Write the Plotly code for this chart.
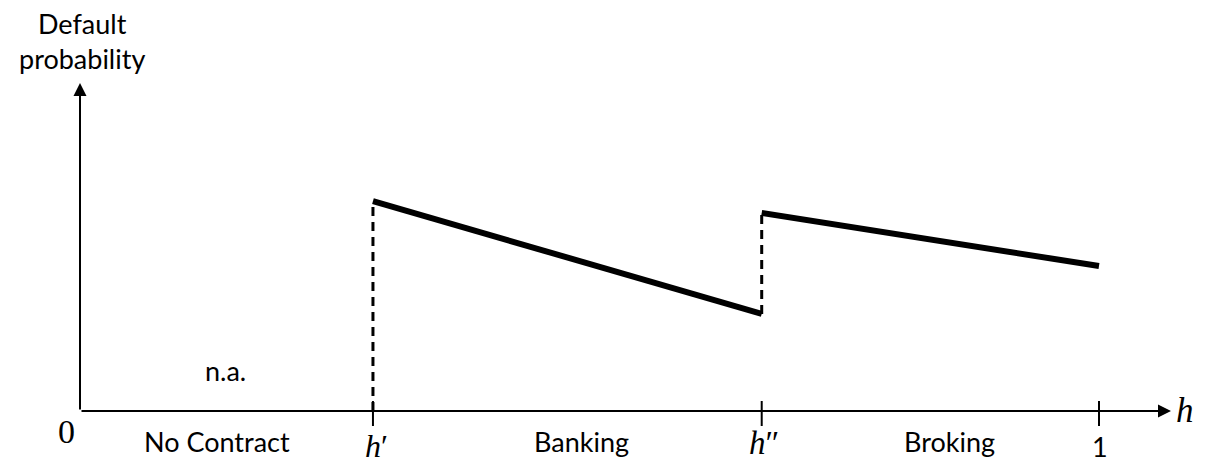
import plotly.graph_objects as go

# thresholds on the h axis
h_prime = 0.2875
h_dprime = 0.669
h_end = 1.0

# default probability segments
banking_h = [h_prime, h_dprime]
banking_pd = [0.640, 0.296]
broking_h = [h_dprime, h_end]
broking_pd = [0.604, 0.442]

regions = ["No Contract", "Banking", "Broking"]
region_x = [0.134, 0.492, 0.853]

PX_X = 1019.0
PX_Y = 328.0
xr = [-80 / PX_X, 1127 / PX_X]
yr = [-(467 - 411) / PX_Y, 411 / PX_Y]

fig = go.Figure()

# dashed vertical connectors
fig.add_trace(go.Scatter(x=[h_prime, h_prime], y=[0, banking_pd[0]], mode="lines",
                         line=dict(color="black", width=3, dash="9px,6px"), hoverinfo="skip"))
fig.add_trace(go.Scatter(x=[h_dprime, h_dprime], y=[banking_pd[1], broking_pd[0]], mode="lines",
                         line=dict(color="black", width=3, dash="9px,6px"), hoverinfo="skip"))
# main segments
fig.add_trace(go.Scatter(x=banking_h, y=banking_pd, mode="lines",
                         line=dict(color="black", width=6), hoverinfo="skip"))
fig.add_trace(go.Scatter(x=broking_h, y=broking_pd, mode="lines",
                         line=dict(color="black", width=6), hoverinfo="skip"))

# ticks
for tx in [h_prime, h_dprime, h_end]:
    fig.add_shape(type="line", x0=tx, x1=tx, y0=10 / PX_Y, y1=-15 / PX_Y,
                  xref="x", yref="y", line=dict(color="black", width=2))

ann = []
# axes with arrows
ann.append(dict(x=(1171 - 80) / PX_X, y=0, ax=0, ay=0, xref="x", yref="y", axref="x", ayref="y",
                showarrow=True, arrowhead=2, arrowsize=1.3, arrowwidth=2, arrowcolor="black", text=""))
ann.append(dict(x=0, y=(411 - 83) / PX_Y, ax=0, ay=0, xref="x", yref="y", axref="x", ayref="y",
                showarrow=True, arrowhead=2, arrowsize=1.3, arrowwidth=2, arrowcolor="black", text=""))

sans = "Lato"
serif = "Liberation Serif"
FS = 27
ann.append(dict(x=2 / PX_X, y=(411 - 41) / PX_Y, text="Default<br>probability", showarrow=False,
                xref="x", yref="y", font=dict(family=sans, size=FS, color="black"),
                xanchor="center", yanchor="middle"))
for name, rx in zip(regions, region_x):
    ann.append(dict(x=rx, y=-(441 - 411) / PX_Y, text=name, showarrow=False, xref="x", yref="y",
                    font=dict(family=sans, size=FS, color="black"), xanchor="center", yanchor="middle"))
ann.append(dict(x=(225 - 80) / PX_X, y=(411 - 370) / PX_Y, text="n.a.", showarrow=False, xref="x", yref="y",
                font=dict(family=sans, size=FS, color="black"), xanchor="center", yanchor="middle"))
ann.append(dict(x=(1100 - 80) / PX_X, y=-(446 - 411) / PX_Y, text="1", showarrow=False, xref="x", yref="y",
                font=dict(family=sans, size=FS, color="black"), xanchor="center", yanchor="middle"))
ann.append(dict(x=(66 - 80) / PX_X, y=-(431 - 411) / PX_Y, text="0", showarrow=False, xref="x", yref="y",
                font=dict(family=serif, size=34, color="black"), xanchor="center", yanchor="middle"))
ann.append(dict(x=h_prime + 4 / PX_X, y=-(446 - 411) / PX_Y, text="<i>h</i>′", showarrow=False, xref="x", yref="y",
                font=dict(family=serif, size=32, color="black"), xanchor="center", yanchor="middle"))
ann.append(dict(x=h_dprime + 2 / PX_X, y=-(443 - 411) / PX_Y, text="<i>h</i>″", showarrow=False, xref="x", yref="y",
                font=dict(family=serif, size=33, color="black"), xanchor="center", yanchor="middle"))
ann.append(dict(x=(1185 - 80) / PX_X, y=-(410 - 411) / PX_Y, text="<i>h</i>", showarrow=False, xref="x", yref="y",
                font=dict(family=serif, size=35, color="black"), xanchor="center", yanchor="middle"))

fig.update_layout(
    width=1207, height=467, autosize=False,
    margin=dict(l=0, r=0, t=0, b=0),
    paper_bgcolor="white", plot_bgcolor="white",
    showlegend=False,
    xaxis=dict(range=xr, visible=False, fixedrange=True),
    yaxis=dict(range=yr, visible=False, fixedrange=True),
    annotations=ann,
)

fig.write_html("out.html", config={"displayModeBar": False},
               post_script="document.body.style.margin='0';document.body.style.overflow='hidden';")
